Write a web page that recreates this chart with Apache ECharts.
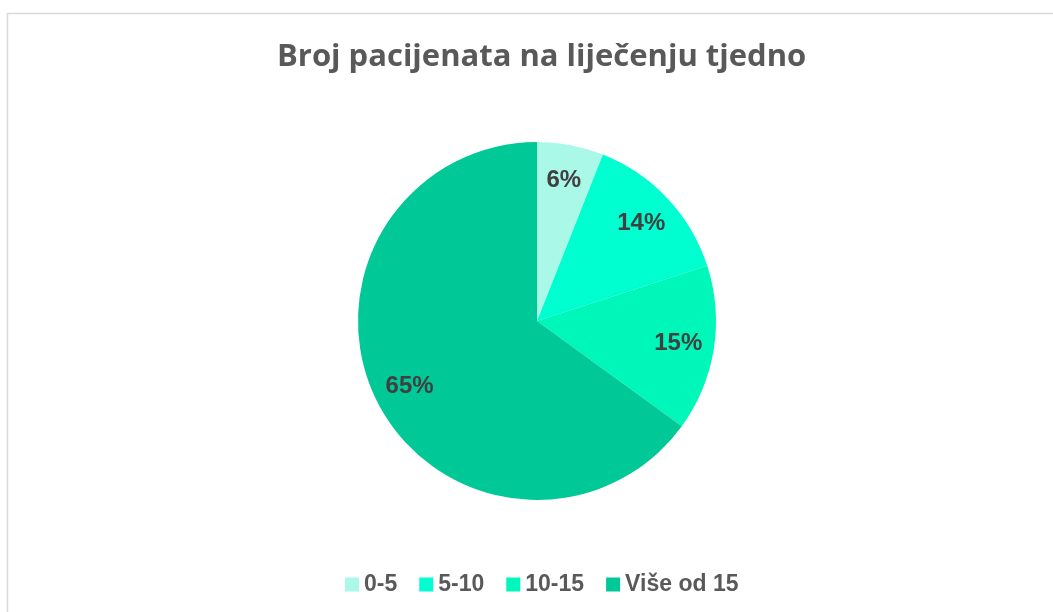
<!DOCTYPE html>
<html>
<head>
<meta charset="utf-8">
<script src="https://cdn.jsdelivr.net/npm/echarts@6/dist/echarts.min.js"></script>
<style>
html,body{margin:0;padding:0;background:#fff;}
#chart{width:1053px;height:612px;}
</style>
</head>
<body>
<div id="chart"></div>
<script>
const categories = ['0-5', '5-10', '10-15', 'Više od 15'];
const values = [6, 14, 15, 65];
const colors = ['#AAF8E8', '#00FFD0', '#00F7BA', '#00C896'];
const titleText = 'Broj pacijenata na liječenju tjedno';

const pieData = categories.map((c, i) => ({ name: c, value: values[i], itemStyle: { color: colors[i] } }));

const chart = echarts.init(document.getElementById('chart'));
chart.setOption({
  animation: false,
  backgroundColor: '#fff',
  title: {
    text: titleText,
    left: 272,
    top: 37,
    textStyle: { fontFamily: 'Open Sans', fontSize: 31, fontWeight: 'bold', color: '#595959' }
  },
  legend: {
    top: 568,
    left: 340,
    icon: 'rect',
    itemWidth: 14,
    itemHeight: 14,
    itemGap: 22,
    textStyle: { fontFamily: 'Liberation Sans, Arial, sans-serif', fontSize: 23, fontWeight: 'bold', color: '#595959' },
    data: categories
  },
  graphic: [{
    type: 'rect',
    shape: { x: 7.5, y: 13.5, width: 1100, height: 700 },
    style: { fill: 'none', stroke: '#D9D9D9', lineWidth: 1.5 },
    silent: true
  }],
  series: [
    {
      type: 'pie',
      center: [537, 321],
      radius: [0, 179],
      startAngle: 90,
      clockwise: true,
      label: { show: false },
      labelLine: { show: false },
      emphasis: { disabled: true },
      data: pieData
    },
    {
      type: 'pie',
      center: [537, 321],
      radius: [101, 179],
      startAngle: 90,
      clockwise: true,
      silent: true,
      legendHoverLink: false,
      itemStyle: { color: 'rgba(0,0,0,0)' },
      label: {
        show: true,
        position: 'inside',
        formatter: '{c}%',
        fontFamily: 'Liberation Sans, Arial, sans-serif',
        fontSize: 24,
        fontWeight: 'bold',
        color: '#404040'
      },
      labelLine: { show: false },
      emphasis: { disabled: true },
      data: categories.map((c, i) => ({ name: c + ' ', value: values[i] }))
    }
  ]
});
</script>
</body>
</html>
